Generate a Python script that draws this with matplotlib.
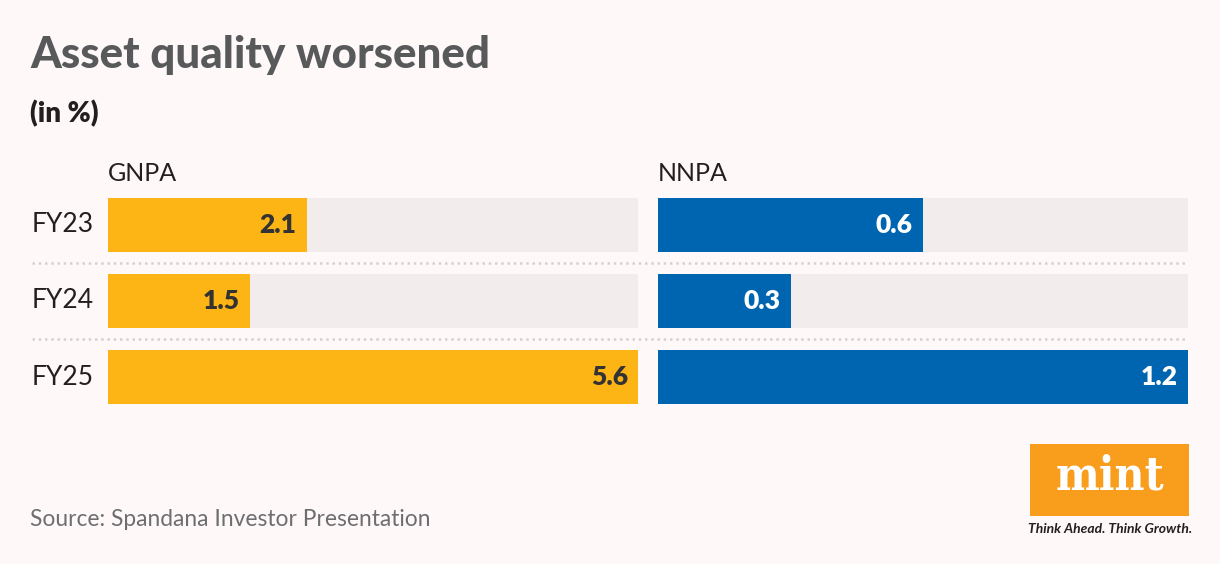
import matplotlib.pyplot as plt
from matplotlib.patches import Rectangle

years = ["FY23", "FY24", "FY25"]
gnpa = [2.1, 1.5, 5.6]
nnpa = [0.6, 0.3, 1.2]
panel_titles = ["GNPA", "NNPA"]

W, H = 1220, 564
bg = "#fff8f8"
track = "#f2ecec"
c_gnpa = "#fdb515"
c_nnpa = "#0065b0"

plt.rcParams['font.family'] = ['Lato', 'DejaVu Sans']

fig = plt.figure(figsize=(W / 100, H / 100), dpi=100, facecolor=bg)

def fx(px):
    return px / W

def fy(px):
    return 1 - px / H

# title block
fig.text(fx(30), fy(68), "Asset quality worsened", fontsize=31.7, fontweight='black',
         color="#58595b", va='baseline')
fig.text(fx(30), fy(122), "(in %)", fontsize=20, fontweight='heavy',
         color="#231f20", va='baseline')

bar_h = 54 / 76
top, bottom = 198, 404
panels = [(108, gnpa, c_gnpa, "#333333", 5.6), (658, nnpa, c_nnpa, "white", 1.2)]
axes = []
for k, (left, vals, col, tcol, vmax) in enumerate(panels):
    ax = fig.add_axes([fx(left), fy(bottom), 530 / W, (bottom - top) / H])
    ax.set_facecolor('none')
    ypos = range(len(years))
    ax.barh(ypos, [vmax] * len(vals), height=bar_h, color=track, zorder=1)
    ax.barh(ypos, vals, height=bar_h, color=col, zorder=2)
    for i, v in enumerate(vals):
        ax.annotate(f"{v}", (v, i), xytext=(-10, 0), textcoords='offset pixels',
                    ha='right', va='center', fontsize=19, fontweight='heavy',
                    color=tcol, zorder=3)
    ax.set_xlim(0, vmax)
    ax.set_ylim(len(years) - 1 + bar_h / 2, -bar_h / 2)
    ax.axis('off')
    ax.text(0, -bar_h / 2 - 0.22, panel_titles[k], fontsize=18, color="#231f20",
            va='baseline', ha='left')
    axes.append(ax)

# row labels and dotted separators
ax0 = axes[0]
for i, y in enumerate(years):
    ax0.annotate(y, (0, i), xytext=(-76, 0), textcoords='offset pixels',
                 ha='left', va='center', fontsize=19, color="#231f20")
for i in range(len(years) - 1):
    ax0.axhline(i + 0.5, xmin=(32 - 108) / 530, xmax=(1188 - 108) / 530,
                color="#d6d1d1", linestyle=(0, (1, 1.5)), linewidth=1.8,
                clip_on=False, zorder=0)

fig.text(fx(30), fy(526), "Source: Spandana Investor Presentation", fontsize=16.4,
         color="#6d6e71", va='baseline')

# mint logo
fig.patches.append(Rectangle((fx(1030), fy(516)), 159 / W, 72 / H,
                             transform=fig.transFigure, facecolor="#f99d1c",
                             edgecolor='none'))
fig.text(fx(1110), fy(477), "mint", fontsize=33, fontweight='bold', color="white",
         family=['DejaVu Serif'], fontstretch='condensed', ha='center', va='center')
fig.text(fx(1110), fy(533), "Think Ahead. Think Growth.", fontsize=10,
         style='italic', fontweight='bold', color="#231f20", ha='center', va='baseline')

fig.savefig("out.png", dpi=100, facecolor=bg)
